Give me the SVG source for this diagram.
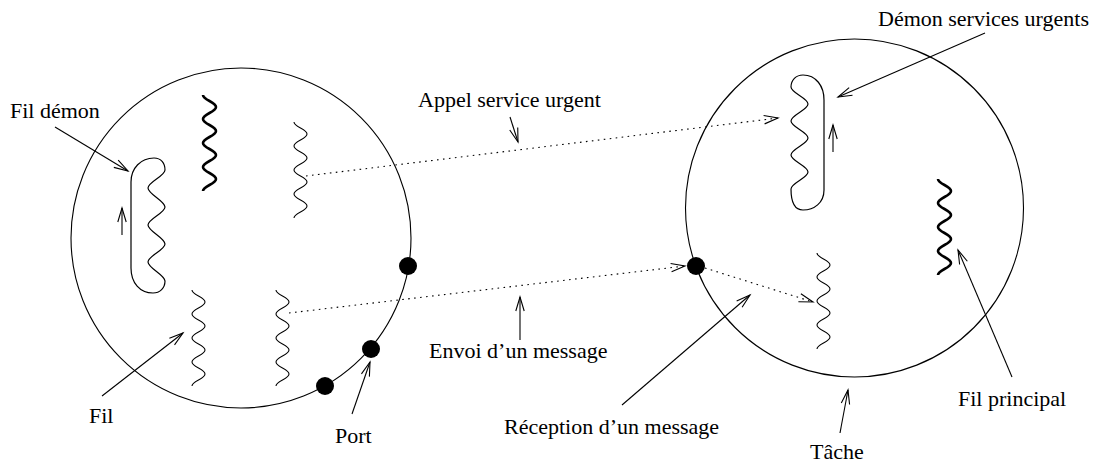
<svg xmlns="http://www.w3.org/2000/svg" xmlns:xlink="http://www.w3.org/1999/xlink" width="1093" height="463" viewBox="0 0 1093 463">
<style>
  .bg{fill:#ffffff}
  .circ{fill:none;stroke:#000;stroke-width:1.1}
  .loop{fill:none;stroke:#000;stroke-width:1.2}
  .thin{fill:none;stroke:#000;stroke-width:1.1}
  .bold{fill:none;stroke:#000;stroke-width:2.6}
  .port{fill:#000;stroke:none}
  .lead{fill:none;stroke:#000;stroke-width:1.1}
  .dot{fill:none;stroke:#000;stroke-width:1.1;stroke-dasharray:1.6 4.4}
  text{font-family:"Liberation Serif","Times New Roman",serif;font-size:22px;fill:#000}
</style>
<defs>
  <marker id="ah" markerUnits="userSpaceOnUse" markerWidth="20" markerHeight="12" refX="0" refY="0" viewBox="-15 -6 16 12" orient="auto" overflow="visible">
    <path d="M -14,-4.2 L 0,0 L -14,4.2" fill="none" stroke="#000" stroke-width="1.1"/>
  </marker>
  <path id="wave" d="M0,0 C0,5 13,7 13,12 C13,17 0,19 0,24 C0,29 13,31 13,36 C13,41 0,43 0,48 C0,53 13,55 13,60 C13,65 0,67 0,72 C0,77 13,79 13,84 C13,89 0,91 0,96"/>
</defs>
<rect class="bg" x="0" y="0" width="1093" height="463"/>

<g id="tache-gauche">
  <circle class="circ" cx="241" cy="238" r="170"/>
</g>
<g id="tache-droite">
  <circle class="circ" cx="854.5" cy="208" r="169"/>
</g>

<g id="fil-demon-gauche">
  <path class="loop" d="M154,158 C161,158 165,163 165,170 C165,176 148,182 148,188 C148,194 165,201 165,207 C165,213 148,219 148,225 C148,231 165,238 165,244 C165,250 148,256 148,262 C148,268 165,275 165,281 C165,288 160,293 153,293 C140,293 131,283 131,268 L131,182 C131,168 141,158 154,158 Z"/>
</g>
<g id="demon-services-droite">
  <path class="loop" d="M803,75 C816,75 824,86 824,100 L824,190 C824,203 814,210 803,210 C794,210 791,200 791,189 C791,183 808,178 808,172 C808,166 791,161 791,155 C791,149 808,144 808,138 C808,132 791,127 791,121 C791,115 808,110 808,104 C808,98 791,93 791,87 C791,80 796,75 803,75 Z"/>
</g>

<g id="fil-gras-gauche"><use xlink:href="#wave" href="#wave" class="bold" x="203" y="95"/></g>
<g id="fil-haut-gauche"><use xlink:href="#wave" href="#wave" class="thin" x="294" y="122"/></g>
<g id="fil-bas-1"><use xlink:href="#wave" href="#wave" class="thin" x="192" y="290"/></g>
<g id="fil-bas-2"><use xlink:href="#wave" href="#wave" class="thin" x="276" y="290"/></g>
<g id="fil-recepteur"><use xlink:href="#wave" href="#wave" class="thin" x="817" y="253"/></g>
<g id="fil-principal"><use xlink:href="#wave" href="#wave" class="bold" x="938" y="179"/></g>

<g id="ports">
  <circle class="port" cx="408" cy="266" r="9"/>
  <circle class="port" cx="371" cy="349" r="9"/>
  <circle class="port" cx="325" cy="386" r="9"/>
  <circle class="port" cx="696" cy="266" r="9"/>
</g>

<g id="connecteurs">
  <line class="dot" x1="306" y1="176" x2="778" y2="118" marker-end="url(#ah)"/>
  <line class="dot" x1="289" y1="313" x2="685" y2="266" marker-end="url(#ah)"/>
  <line class="dot" x1="705" y1="268" x2="813" y2="302" marker-end="url(#ah)"/>
  <line class="lead" x1="55" y1="127" x2="128" y2="171" marker-end="url(#ah)"/>
  <line class="lead" x1="510" y1="117" x2="518" y2="142" marker-end="url(#ah)"/>
  <line class="lead" x1="985" y1="33" x2="838" y2="97" marker-end="url(#ah)"/>
  <line class="lead" x1="102" y1="396" x2="183" y2="333" marker-end="url(#ah)"/>
  <line class="lead" x1="352" y1="414" x2="370" y2="362" marker-end="url(#ah)"/>
  <line class="lead" x1="520" y1="340" x2="520" y2="297" marker-end="url(#ah)"/>
  <line class="lead" x1="622" y1="405" x2="750" y2="295" marker-end="url(#ah)"/>
  <line class="lead" x1="840" y1="433" x2="848" y2="390" marker-end="url(#ah)"/>
  <line class="lead" x1="1012" y1="377" x2="958" y2="250" marker-end="url(#ah)"/>
  <line class="lead" x1="122" y1="235" x2="122" y2="208" marker-end="url(#ah)"/>
  <line class="lead" x1="833" y1="152" x2="833" y2="125" marker-end="url(#ah)"/>
</g>

<g id="etiquettes">
  <text x="10" y="118">Fil démon</text>
  <text x="418" y="107">Appel service urgent</text>
  <text x="878" y="26">Démon services urgents</text>
  <text x="89" y="423">Fil</text>
  <text x="335" y="443">Port</text>
  <text x="429" y="358">Envoi d’un message</text>
  <text x="504" y="434">Réception d’un message</text>
  <text x="810" y="459">Tâche</text>
  <text x="958" y="406">Fil principal</text>
</g>
</svg>
